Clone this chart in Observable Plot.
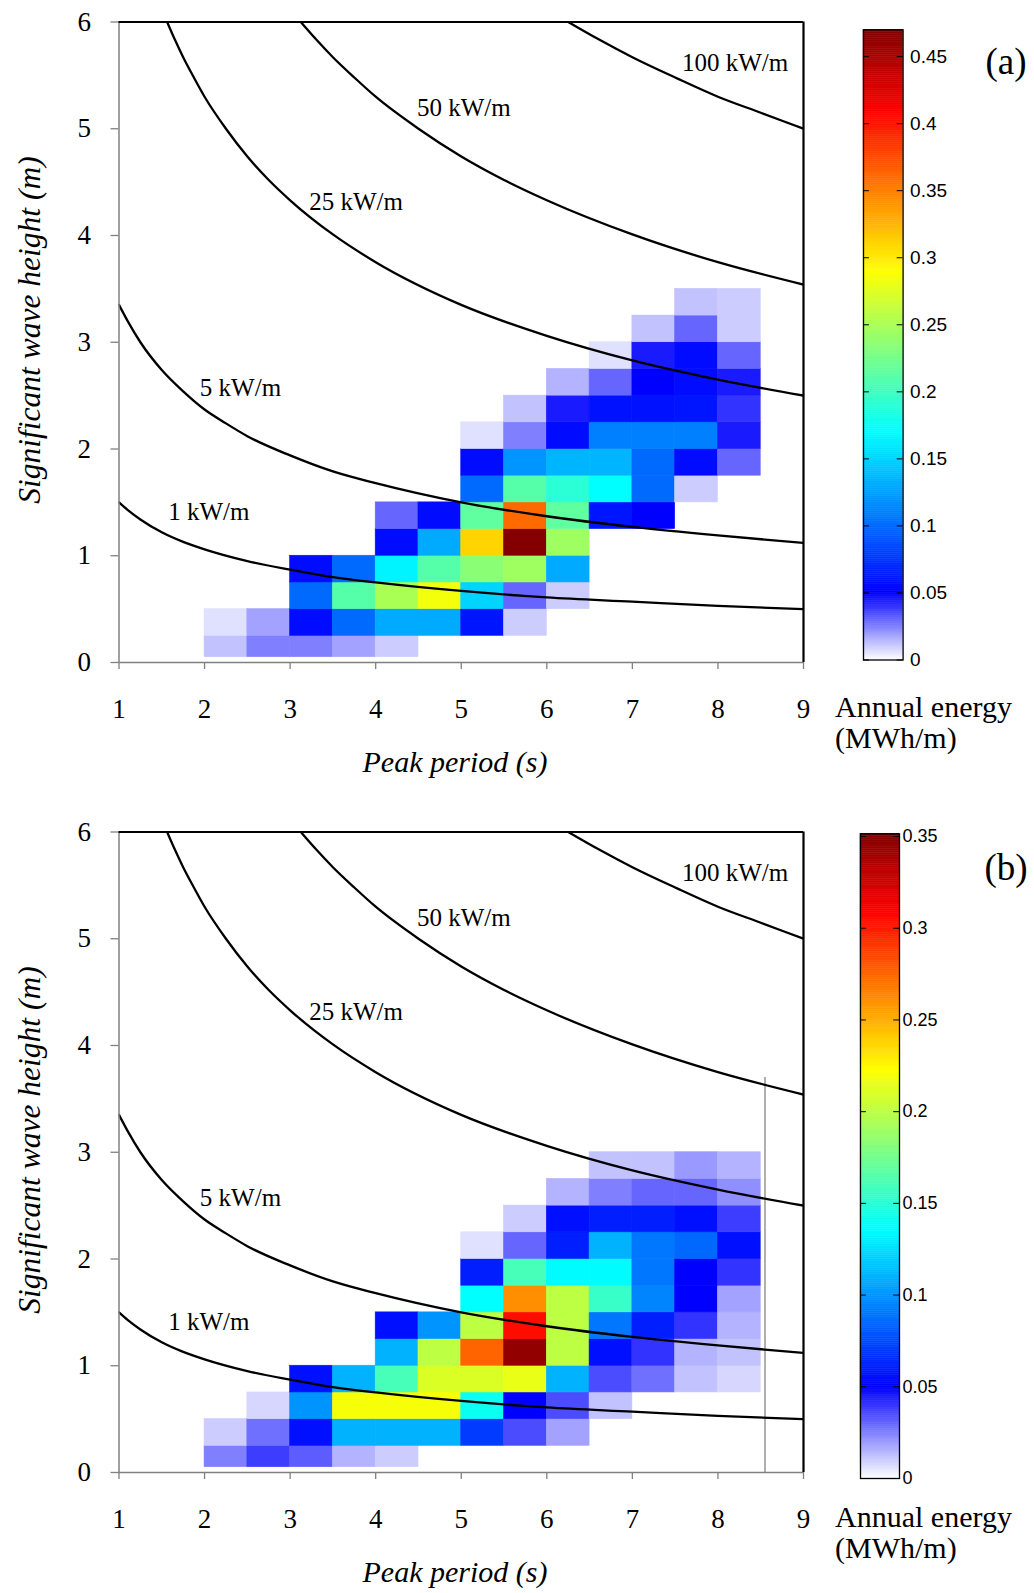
<!DOCTYPE html>
<html>
<head>
<meta charset="utf-8">
<script src="https://cdn.jsdelivr.net/npm/d3@7"></script>
<script src="https://cdn.jsdelivr.net/npm/@observablehq/plot@0.6"></script>
<style>
  body { margin: 0; background: #fff; }
  #root { position: relative; width: 1034px; height: 1593px; overflow: hidden; font-family: "Liberation Serif", "Times New Roman", serif; color: #000; }
  .panel { position: absolute; left: 0; width: 1034px; }
  .abs { position: absolute; white-space: nowrap; }
  .main g[aria-label*="axis"] line, .main g[aria-label*="axis"] path { stroke: #808080; stroke-width: 1.3; }
</style>
</head>
<body>
<div id="root"></div>
<script>
// ---------- DATA ----------
// Peak-period bin edges (s) and significant-wave-height bin edges (m)
const tpEdges = [2, 2.5, 3, 3.5, 4, 4.5, 5, 5.5, 6, 6.5, 7, 7.5, 8, 8.5];
const hsEdges = [0.05, 0.25, 0.5, 0.75, 1, 1.25, 1.5, 1.75, 2, 2.25, 2.5, 2.75, 3, 3.25, 3.5];

// Annual energy (MWh/m), rows = Hs bins (bottom to top), columns = Tp bins
const energyA = [
  [0.012, 0.025, 0.025, 0.018, 0.01, 0, 0, 0, 0, 0, 0, 0, 0],
  [0.006, 0.018, 0.055, 0.1, 0.13, 0.13, 0.06, 0.01, 0, 0, 0, 0, 0],
  [0, 0, 0.1, 0.21, 0.25, 0.285, 0.15, 0.03, 0.01, 0, 0, 0, 0],
  [0, 0, 0.055, 0.1, 0.165, 0.21, 0.235, 0.245, 0.13, 0, 0, 0, 0],
  [0, 0, 0, 0, 0.055, 0.13, 0.31, 0.468, 0.245, 0, 0, 0, 0],
  [0, 0, 0, 0, 0.03, 0.055, 0.215, 0.36, 0.215, 0.06, 0.05, 0, 0],
  [0, 0, 0, 0, 0, 0, 0.1, 0.21, 0.19, 0.17, 0.1, 0.01, 0],
  [0, 0, 0, 0, 0, 0, 0.055, 0.12, 0.135, 0.135, 0.1, 0.055, 0.03],
  [0, 0, 0, 0, 0, 0, 0.006, 0.025, 0.055, 0.11, 0.11, 0.11, 0.045],
  [0, 0, 0, 0, 0, 0, 0, 0.012, 0.045, 0.058, 0.058, 0.06, 0.04],
  [0, 0, 0, 0, 0, 0, 0, 0, 0.015, 0.03, 0.05, 0.055, 0.045],
  [0, 0, 0, 0, 0, 0, 0, 0, 0, 0.006, 0.045, 0.055, 0.03],
  [0, 0, 0, 0, 0, 0, 0, 0, 0, 0, 0.012, 0.03, 0.01],
  [0, 0, 0, 0, 0, 0, 0, 0, 0, 0, 0, 0.012, 0.01]
];
const energyB = [
  [0.025, 0.038, 0.032, 0.015, 0.01, 0, 0, 0, 0, 0, 0, 0, 0],
  [0.01, 0.028, 0.055, 0.11, 0.11, 0.11, 0.07, 0.035, 0.018, 0, 0, 0, 0],
  [0, 0.008, 0.1, 0.22, 0.22, 0.22, 0.14, 0.05, 0.035, 0.012, 0, 0, 0],
  [0, 0, 0.055, 0.11, 0.16, 0.21, 0.21, 0.215, 0.11, 0.035, 0.028, 0.012, 0.008],
  [0, 0, 0, 0, 0.11, 0.2, 0.275, 0.345, 0.2, 0.055, 0.04, 0.015, 0.012],
  [0, 0, 0, 0, 0.055, 0.1, 0.2, 0.305, 0.2, 0.09, 0.06, 0.04, 0.015],
  [0, 0, 0, 0, 0, 0, 0.136, 0.261, 0.2, 0.155, 0.095, 0.05, 0.018],
  [0, 0, 0, 0, 0, 0, 0.06, 0.16, 0.135, 0.135, 0.09, 0.05, 0.04],
  [0, 0, 0, 0, 0, 0, 0.006, 0.03, 0.06, 0.11, 0.09, 0.085, 0.055],
  [0, 0, 0, 0, 0, 0, 0, 0.01, 0.055, 0.06, 0.06, 0.055, 0.038],
  [0, 0, 0, 0, 0, 0, 0, 0, 0.015, 0.025, 0.03, 0.03, 0.022],
  [0, 0, 0, 0, 0, 0, 0, 0, 0, 0.012, 0.012, 0.02, 0.015]
];

// Iso-power curves (Tp, Hs)
const curve1   = [[1, 1.5], [1.1, 1.43], [1.25, 1.34], [1.5, 1.22], [1.75, 1.13], [2, 1.06], [2.5, 0.95], [3, 0.87], [3.5, 0.8], [4, 0.75], [5, 0.67], [6, 0.61], [7, 0.57], [8, 0.53], [9, 0.5]];
const curve5   = [[1, 3.35], [1.1, 3.2], [1.25, 3.0], [1.5, 2.74], [1.75, 2.54], [2, 2.37], [2.25, 2.24], [2.5, 2.12], [3, 1.94], [3.5, 1.79], [4, 1.68], [5, 1.5], [6, 1.37], [7, 1.27], [8, 1.19], [9, 1.12]];
const curve25  = [[1.5625, 6], [1.65, 5.84], [1.75, 5.67], [1.875, 5.48], [2, 5.3], [2.25, 5.0], [2.5, 4.74], [2.75, 4.52], [3, 4.33], [3.5, 4.01], [4, 3.75], [5, 3.35], [6, 3.06], [7, 2.83], [8, 2.65], [9, 2.5]];
const curve50  = [[3.125, 6], [3.3, 5.84], [3.5, 5.67], [3.75, 5.48], [4, 5.3], [4.5, 5.0], [5, 4.74], [5.5, 4.52], [6, 4.33], [7, 4.01], [8, 3.75], [9, 3.54]];
const curve100 = [[6.25, 6], [6.6, 5.84], [7, 5.67], [7.5, 5.48], [8, 5.3], [8.5, 5.15], [9, 5.0]];
const curveNames = ["1 kW/m", "5 kW/m", "25 kW/m", "50 kW/m", "100 kW/m"];
const curveLabelTp = [2.05, 2.42, 3.77, 5.03, 8.2];
const curveLabelHs = [1.41, 2.57, 4.31, 5.19, 5.62];

const tpDomain = [1, 9];
const hsDomain = [0, 6];
const xTicks = [1, 2, 3, 4, 5, 6, 7, 8, 9];
const yTicks = [0, 1, 2, 3, 4, 5, 6];

const cbTicksA = [0, 0.05, 0.1, 0.15, 0.2, 0.25, 0.3, 0.35, 0.4, 0.45];
const cbTicksB = [0, 0.05, 0.1, 0.15, 0.2, 0.25, 0.3, 0.35];
const cbMaxA = 0.47;
const cbMaxB = 0.3515;
// colormap stops (white -> blue below 0.05, jet above)
const jetColors = ["#ffffff", "#0000ff", "#00ffff", "#ffff00", "#ff0000", "#800000"];
const stopsA = [0, 0.05, 0.17, 0.29, 0.41, 0.47];
const stopsB = [0, 0.05, 0.136, 0.2226, 0.309, 0.3515];

// vertical guide line visible in panel (b)
const guideB = [{tp: 8.55, hsLow: 0, hsHigh: 3.7}];

// ---------- BUILD ----------
const curveRows = [];
[curve1, curve5, curve25, curve50, curve100].forEach((pts, i) =>
  pts.forEach(([tp, hs]) => curveRows.push({p: curveNames[i], tp, hs})));
const curveLabels = curveNames.map((label, i) => ({label, tp: curveLabelTp[i], hs: curveLabelHs[i]}));

const root = document.getElementById("root");

function div(parent, css, html, cls = "abs") {
  const d = document.createElement("div");
  d.className = cls;
  Object.assign(d.style, css);
  if (html != null) d.innerHTML = html;
  parent.appendChild(d);
  return d;
}

function buildPanel(cfg) {
  const panel = div(root, {top: cfg.top + "px", height: cfg.height + "px"}, null, "panel");

  const cells = [];
  cfg.energy.forEach((row, r) => row.forEach((v, c) => {
    if (v > 0) cells.push({x1: tpEdges[c], x2: tpEdges[c + 1], y1: hsEdges[r], y2: hsEdges[r + 1], v});
  }));
  const color = () => ({type: "linear", domain: cfg.stops, range: jetColors, interpolate: "rgb"});

  const marks = [
    Plot.rect(cells, {x1: "x1", x2: "x2", y1: "y1", y2: "y2", fill: "v", stroke: "v", strokeWidth: 0.6}),
  ];
  if (cfg.guide) marks.push(Plot.ruleX(cfg.guide, {x: "tp", y1: "hsLow", y2: "hsHigh", stroke: "#7a7a7a", strokeWidth: 1.2}));
  marks.push(
    Plot.line(curveRows, {x: "tp", y: "hs", z: "p", curve: "monotone-x", stroke: "black", strokeWidth: 2.3, clip: true}),
    Plot.text(curveLabels, {x: "tp", y: "hs", text: "label", fontSize: 25, fill: "black"}),
    Plot.ruleY([hsDomain[0]], {stroke: "#808080", strokeWidth: 1.5}),
    Plot.ruleX([tpDomain[0]], {stroke: "#808080", strokeWidth: 1.5}),
    Plot.ruleY([hsDomain[1]], {stroke: "black", strokeWidth: 2.2}),
    Plot.ruleX([tpDomain[1]], {stroke: "black", strokeWidth: 2.2})
  );

  const main = Plot.plot({
    width: 830, height: 730,
    marginLeft: 118.5, marginRight: 27, marginTop: 21.5, marginBottom: 68,
    style: {fontFamily: "'Liberation Serif', 'Times New Roman', serif", fontSize: "27px", background: "transparent", color: "black", overflow: "visible"},
    x: {domain: tpDomain, ticks: xTicks, tickSize: 7, tickPadding: 29, tickFormat: d => String(d), label: null},
    y: {domain: hsDomain, ticks: yTicks, tickSize: 8, tickPadding: 20, tickFormat: d => String(d), label: null},
    color: color(),
    marks
  });
  const mainWrap = div(panel, {left: "0px", top: "0px"}, null, "abs main");
  mainWrap.appendChild(main);

  // colorbar
  const N = 300;
  const slices = d3.range(N).map(i => ({y1: i * cfg.cbMax / N, y2: (i + 1) * cfg.cbMax / N}));
  const cbW = 140;
  const cbML = 12;
  const cb = Plot.plot({
    width: cbW, height: cfg.cbHeight,
    marginLeft: cbML, marginRight: cbW - cbML - cfg.cbBarW,
    marginTop: cfg.cbTop, marginBottom: cfg.cbHeight - cfg.cbBottom,
    style: {fontFamily: "'Liberation Sans', Arial, sans-serif", fontSize: cfg.cbFont + "px", background: "transparent", color: "black", overflow: "visible"},
    x: {domain: [0, 1], axis: null},
    y: {domain: [0, cfg.cbMax], ticks: cfg.cbTicks, tickSize: 0, tickPadding: cfg.cbPad, tickFormat: d => String(d), axis: "right", label: null},
    color: color(),
    marks: [
      Plot.rect(slices, {x1: 0, x2: 1, y1: "y1", y2: "y2", fill: d => (d.y1 + d.y2) / 2, stroke: d => (d.y1 + d.y2) / 2, strokeWidth: 0.5}),
      Plot.ruleY(cfg.cbTicks, {x1: 0, x2: 0.15, stroke: "black", strokeWidth: 1}),
      Plot.ruleY(cfg.cbTicks, {x1: 0.85, x2: 1, stroke: "black", strokeWidth: 1}),
      Plot.frame({stroke: "black", strokeWidth: 1.3})
    ]
  });
  const cbWrap = div(panel, {left: (cfg.cbX - cbML) + "px", top: "0px"});
  cbWrap.appendChild(cb);

  // text
  div(panel, {left: "966px", top: (cfg.tagY - 22) + "px", width: "80px", textAlign: "center", fontSize: "37px", lineHeight: "44px"}, cfg.tag);
  div(panel, {left: "835px", top: "691px", fontSize: "30px", lineHeight: "31px"}, "Annual energy<br>(MWh/m)");
  div(panel, {left: "255px", top: "747px", width: "400px", textAlign: "center", fontSize: "30px", lineHeight: "30px", fontStyle: "italic"}, "Peak period (s)");
  div(panel, {left: "-170px", top: "315px", width: "400px", textAlign: "center", fontSize: "31.5px", lineHeight: "30px", fontStyle: "italic", transform: "rotate(-90deg)"}, "Significant wave height (m)");
}

buildPanel({top: 0, height: 810, energy: energyA, stops: stopsA, cbMax: cbMaxA, cbTicks: cbTicksA,
  cbX: 862.7, cbBarW: 39.6, cbTop: 29.3, cbBottom: 659.5, cbHeight: 690, cbFont: 19, cbPad: 7, tag: "(a)", tagY: 62});
buildPanel({top: 810, height: 783, energy: energyB, stops: stopsB, cbMax: cbMaxB, cbTicks: cbTicksB, guide: guideB,
  cbX: 860, cbBarW: 39, cbTop: 23.3, cbBottom: 668, cbHeight: 700, cbFont: 18, cbPad: 3, tag: "(b)", tagY: 58});
</script>
</body>
</html>
